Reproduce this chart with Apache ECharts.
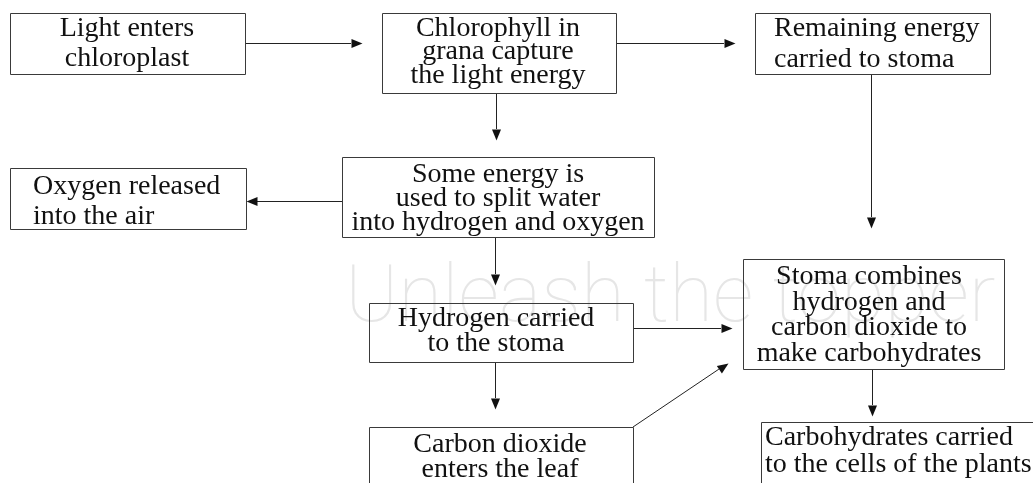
<!DOCTYPE html>
<html>
<head>
<meta charset="utf-8">
<script src="https://cdn.jsdelivr.net/npm/echarts@6/dist/echarts.min.js"></script>
<style>
html,body{margin:0;padding:0;background:#fff;}
#chart{width:1033px;height:483px;}
</style>
</head>
<body>
<div id="chart"></div>
<script>
// ---- Diagram data (diagram units = page pixels on hidden value axes) ----
const nodeTexts = [
  'Light enters\nchloroplast',
  'Chlorophyll in\ngrana capture\nthe light energy',
  'Remaining energy\ncarried to stoma',
  'Oxygen released\ninto the air',
  'Some energy is\nused to split water\ninto hydrogen and oxygen',
  'Hydrogen carried\nto the stoma',
  'Carbon dioxide\nenters the leaf',
  'Stoma combines\nhydrogen and\ncarbon dioxide to\nmake carbohydrates',
  'Carbohydrates carried\nto the cells of the plants'
];
// box extents [x1, y1, x2, y2]
const nodeBoxes = [
  [10, 13, 245, 74],
  [382, 13, 616, 93],
  [755, 13, 990, 74],
  [10, 168, 246, 229],
  [342, 157, 654, 237],
  [369, 303, 633, 362],
  [369, 427, 633, 500],
  [743, 259, 1004, 369],
  [761, 422, 1045, 500]
];
// text anchor [x, y-centre of text block]
const nodeTextAnchor = [
  [127, 44], [498, 52], [774, 44], [33, 202], [498, 199],
  [496, 331], [500, 457], [869, 315], [765, 451]
];
const nodeAlign = ['center','center','left','left','center','center','center','center','left'];
const nodeLineHeight = [30, 23.5, 31, 30, 24, 25, 25, 25.5, 27];

// connectors: start point, arrow-tip point
const edgeFrom = [[245,43],[616,43],[496,93],[871,74],[342,201],[495,237],[633,328],[495,362],[633,427],[872,369]];
const edgeTo   = [[362,43],[735,43],[496,140],[871,228],[246,201],[495,285],[732,328],[495,409],[728,363],[872,416]];

const watermarkText = 'Unleash the topper';

const chart = echarts.init(document.getElementById('chart'), null, {renderer: 'canvas'});

function renderNode(params, api) {
  const i = api.value(0);
  const b = nodeBoxes[i];
  const p1 = api.coord([b[0], b[1]]);
  const p2 = api.coord([b[2], b[3]]);
  const a = api.coord(nodeTextAnchor[i]);
  return {
    type: 'group',
    children: [
      {
        type: 'rect',
        shape: {x: Math.round(p1[0]) + 0.5, y: Math.round(p1[1]) + 0.5,
                width: Math.round(p2[0] - p1[0]), height: Math.round(p2[1] - p1[1])},
        style: {fill: 'rgba(255,255,255,0)', stroke: '#3a3a3a', lineWidth: 1}
      },
      {
        type: 'text',
        style: {
          text: nodeTexts[i],
          x: a[0], y: a[1],
          align: nodeAlign[i],
          verticalAlign: 'middle',
          fontFamily: '"Liberation Serif", "Times New Roman", serif',
          fontSize: 28,
          lineHeight: nodeLineHeight[i],
          fill: '#111'
        }
      }
    ]
  };
}

function renderEdge(params, api) {
  const i = api.value(0);
  const s = api.coord(edgeFrom[i]);
  const t = api.coord(edgeTo[i]);
  const dx = t[0] - s[0], dy = t[1] - s[1];
  const len = Math.sqrt(dx * dx + dy * dy);
  const ux = dx / len, uy = dy / len;
  const headLen = 11, headHalf = 4.5;
  const bx = t[0] - ux * headLen, by = t[1] - uy * headLen;
  const px = -uy, py = ux;
  const vert = Math.abs(dx) < 0.01, horiz = Math.abs(dy) < 0.01;
  return {
    type: 'group',
    children: [
      {
        type: 'line',
        shape: {x1: s[0] + (vert ? 0.5 : 0), y1: s[1] + (horiz ? 0.5 : 0),
                x2: bx + (vert ? 0.5 : 0), y2: by + (horiz ? 0.5 : 0)},
        style: {stroke: '#222', lineWidth: 1}
      },
      {
        type: 'polygon',
        shape: {points: [[t[0] + 0.5, t[1] + 0.5],
                         [bx + px * headHalf + 0.5, by + py * headHalf + 0.5],
                         [bx - px * headHalf + 0.5, by - py * headHalf + 0.5]]},
        style: {fill: '#111'}
      }
    ]
  };
}

chart.setOption({
  backgroundColor: '#ffffff',
  animation: false,
  grid: {left: 0, right: 0, top: 0, bottom: 0},
  xAxis: {type: 'value', min: 0, max: 1033, show: false},
  yAxis: {type: 'value', min: 0, max: 483, inverse: true, show: false},
  graphic: [{
    type: 'text',
    z: -10,
    silent: true,
    style: {
      text: watermarkText,
      x: 345, y: 301,
      verticalAlign: 'middle',
      fontFamily: 'Roboto, "DejaVu Sans", sans-serif',
      fontWeight: 100,
      fontSize: 80,
      fill: '#e6e6e6'
    }
  }],
  series: [
    {
      type: 'custom',
      name: 'edges',
      coordinateSystem: 'cartesian2d',
      renderItem: renderEdge,
      clip: false,
      silent: true,
      data: edgeFrom.map((_, i) => [i])
    },
    {
      type: 'custom',
      name: 'nodes',
      coordinateSystem: 'cartesian2d',
      renderItem: renderNode,
      clip: false,
      silent: true,
      data: nodeTexts.map((_, i) => [i])
    }
  ]
});
</script>
</body>
</html>
